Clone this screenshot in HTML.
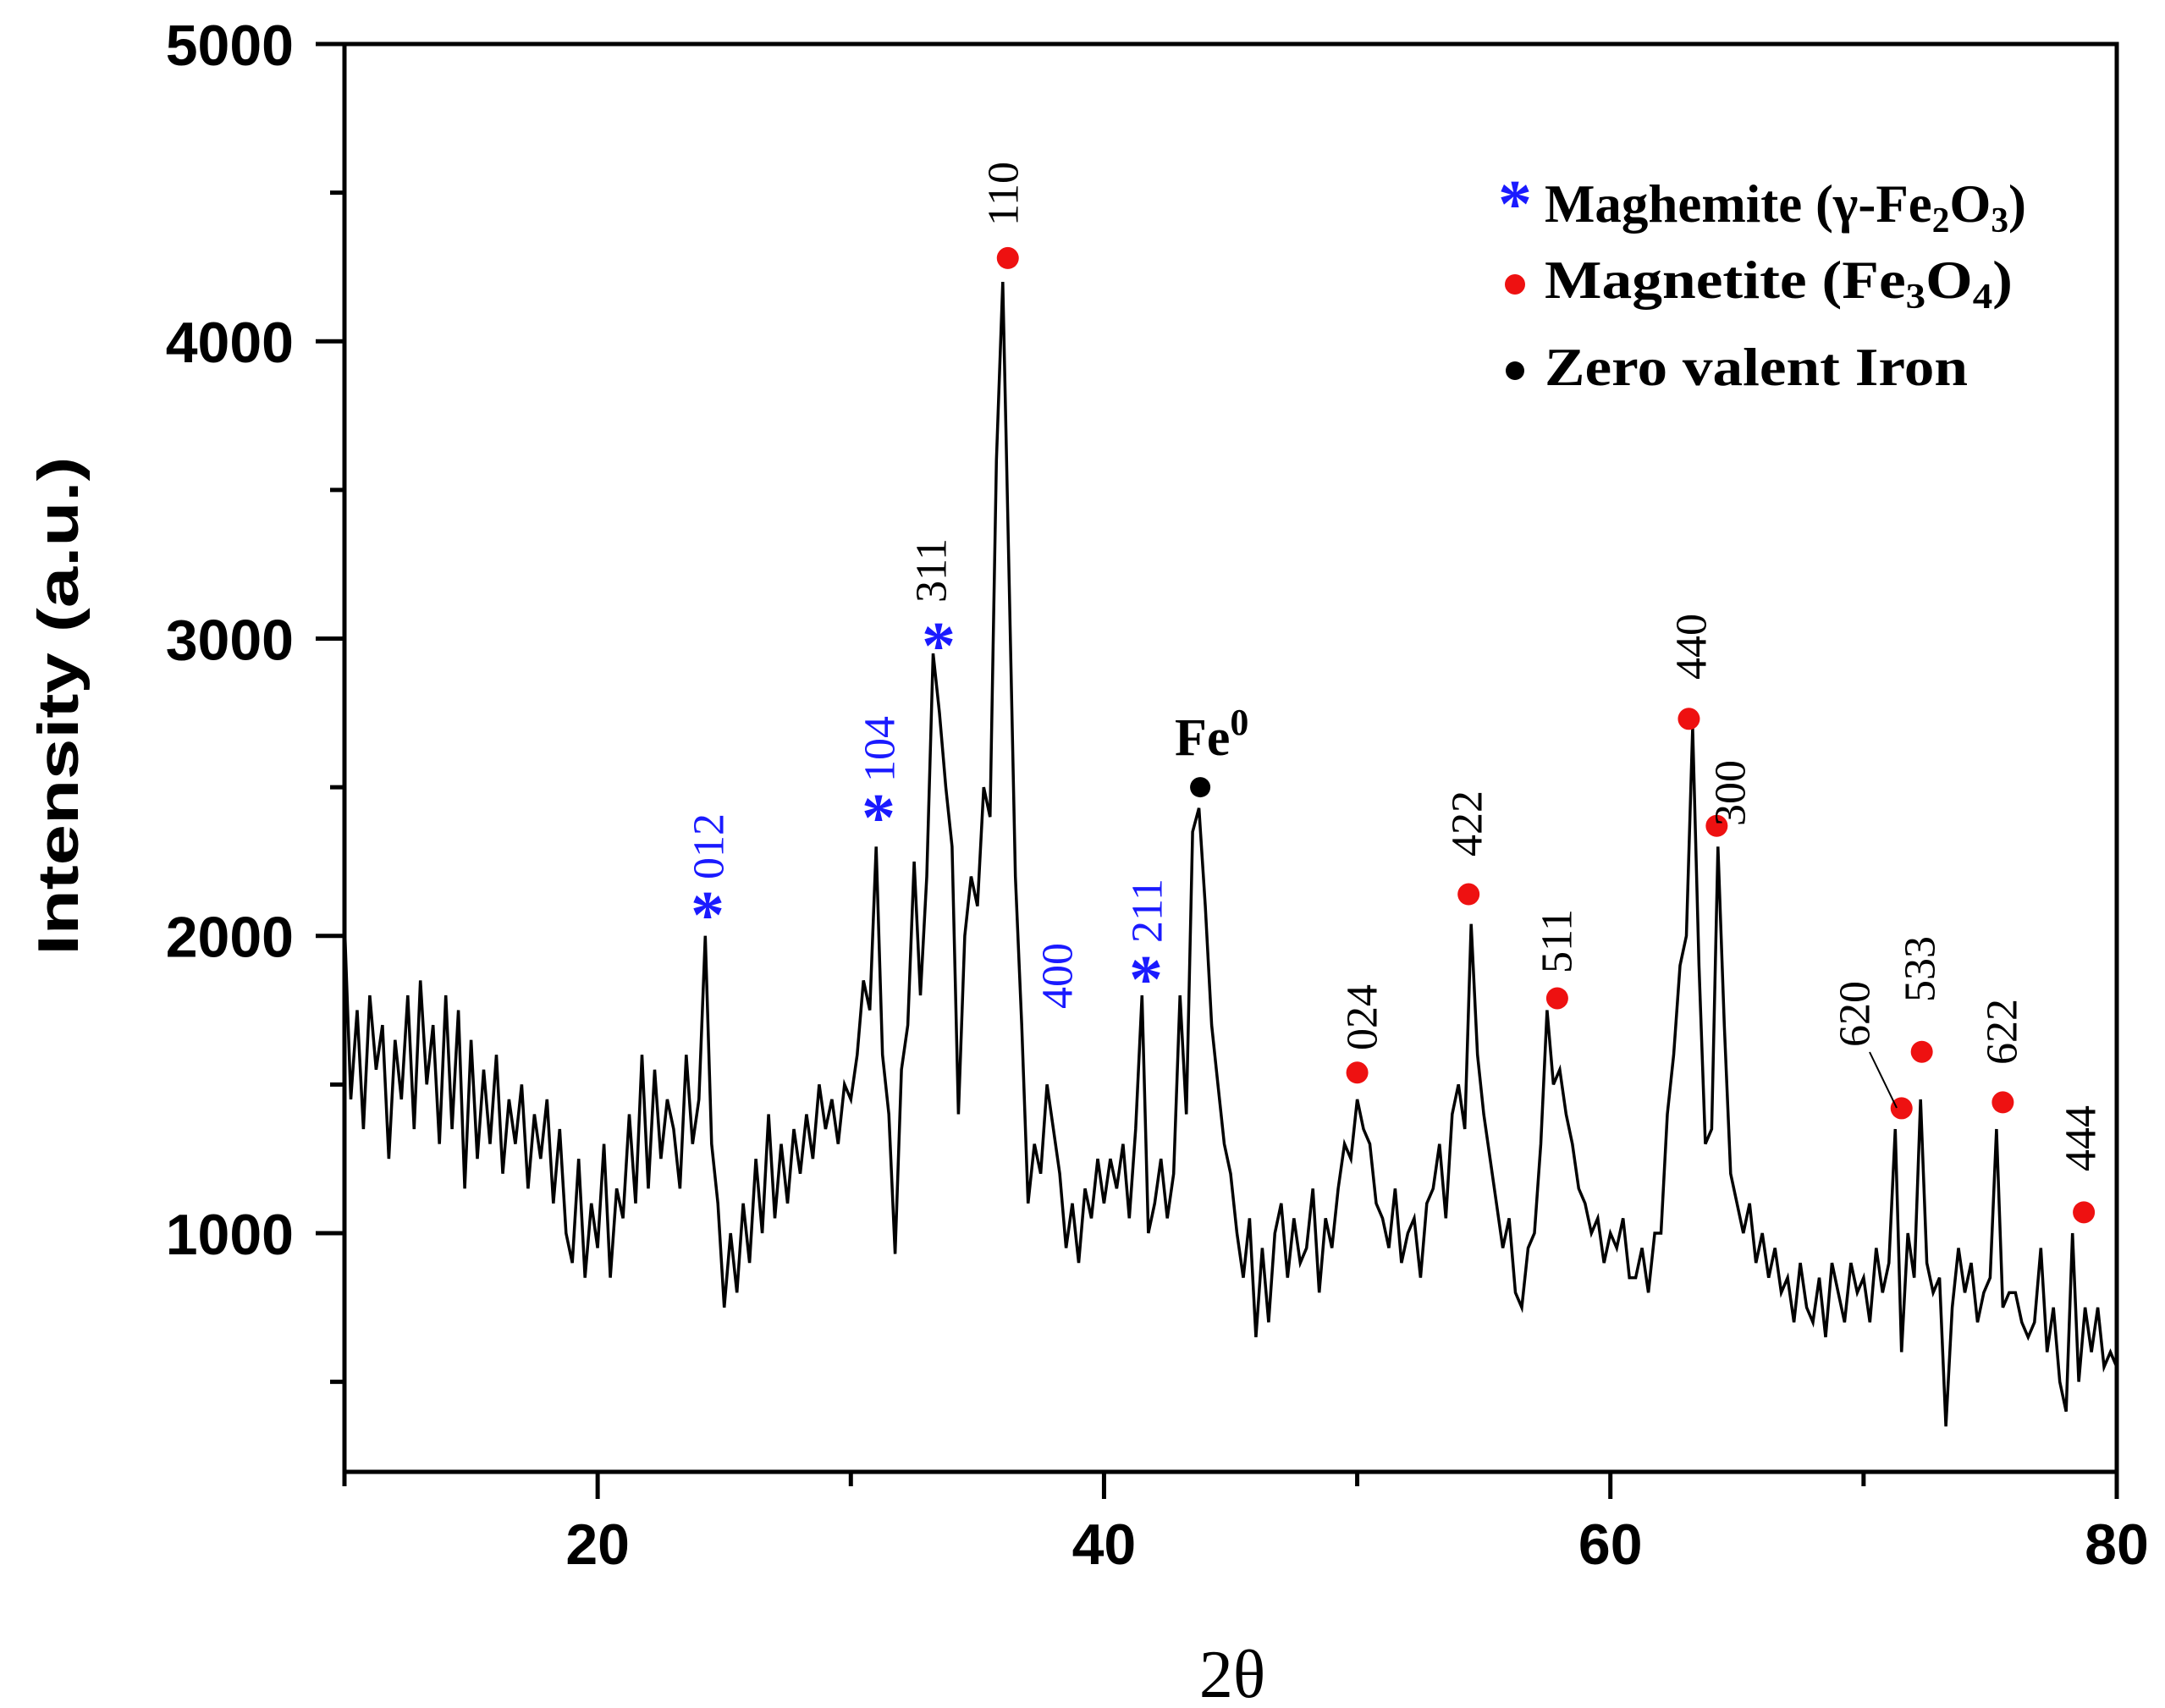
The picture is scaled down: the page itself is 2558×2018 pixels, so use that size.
<!DOCTYPE html>
<html><head><meta charset="utf-8"><style>
html,body{margin:0;padding:0;background:#fff;}
svg{display:block;}
</style></head><body>
<svg id="chart" width="2558" height="2018" viewBox="0 0 2558 2018" xmlns="http://www.w3.org/2000/svg">
<rect width="2558" height="2018" fill="#fff"/>
<g id="plot"></g>
<g id="axes"></g>
<g id="annot"></g>
<g id="legend">
  <text x="1790" y="268" font-family="Liberation Serif, serif" font-size="80" font-weight="bold" fill="#1a1aff" text-anchor="middle">*</text>
  <text x="1825" y="262" font-family="Liberation Serif, serif" font-size="64" font-weight="bold" textLength="569" lengthAdjust="spacingAndGlyphs">Maghemite (γ-Fe<tspan font-size="42" dy="12">2</tspan><tspan dy="-12">O</tspan><tspan font-size="42" dy="12">3</tspan><tspan dy="-12">)</tspan></text>
  <circle cx="1790" cy="336" r="12" fill="#ee1111"/>
  <text x="1825" y="352" font-family="Liberation Serif, serif" font-size="64" font-weight="bold" textLength="553" lengthAdjust="spacingAndGlyphs">Magnetite (Fe<tspan font-size="42" dy="12">3</tspan><tspan dy="-12">O</tspan><tspan font-size="42" dy="12">4</tspan><tspan dy="-12">)</tspan></text>
  <circle cx="1790" cy="438" r="11" fill="#000"/>
  <text x="1825" y="455" font-family="Liberation Serif, serif" font-size="64" font-weight="bold" textLength="500" lengthAdjust="spacingAndGlyphs">Zero valent Iron</text>
</g>
</svg>
<script>
const xStart = 10;
const xStep = 0.25;
const intensity = [
2050,1450,1750,1350, 1800,1550,1700,1250, 1650,1450,1800,1350, 1850,1500,1700,1300,
1800,1350,1750,1150, 1650,1250,1550,1300, 1600,1200,1450,1300, 1500,1150,1400,1250,
1450,1100,1350,1000, 900,1250,850,1100, 950,1300,850,1150, 1050,1400,1100,1600,
1150,1550,1250,1450, 1350,1150,1600,1300, 1450,2000,1300,1100, 750,1000,800,1100,
900,1250,1000,1400, 1050,1300,1100,1350, 1200,1400,1250,1500, 1350,1450,1300,1500,
1450,1600,1850,1750, 2300,1600,1400,930, 1550,1700,2250,1800, 2200,2950,2750,2500,
2300,1400,2000,2200, 2100,2500,2400,3600, 4200,3200,2200,1700, 1100,1300,1200,1500,
1350,1200,950,1100, 900,1150,1050,1250, 1100,1250,1150,1300, 1050,1350,1800,1000,
1100,1250,1050,1200, 1800,1400,2350,2430, 2100,1700,1500,1300, 1200,1000,850,1050,
650,950,700,1000, 1100,850,1050,900, 950,1150,800,1050, 950,1150,1300,1250,
1450,1350,1300,1100, 1050,950,1150,900, 1000,1050,850,1100, 1150,1300,1050,1400,
1500,1350,2040,1600, 1400,1250,1100,950, 1050,800,750,950, 1000,1300,1750,1500,
1550,1400,1300,1150, 1100,1000,1050,900, 1000,950,1050,850, 850,950,800,1000,
1000,1400,1600,1900, 2000,2700,1900,1300, 1350,2300,1700,1200, 1100,1000,1100,900,
1000,850,950,800, 850,700,900,750, 700,850,650,900, 800,700,900,800,
850,700,950,800, 900,1350,600,1000, 850,1450,900,800, 850,350,750,950,
800,900,700,800, 850,1350,750,800, 800,700,650,700, 950,600,750,500,
400,1000,500,750, 600,750,550,600, 550
];
const xTicks = [20,40,60,80];
const xMinorTicks = [10,30,50,70];
const yTicks = [1000,2000,3000,4000,5000];
const yMinorTicks = [500,1500,2500,3500,4500];
const redDotX = [36.2,63.1,64.2,54.4,57.9,50.0,71.5,72.3,75.5,78.7];
const redDotY = [4280,2730,2370,2140,1790,1540,1420,1610,1440,1070];
const feDotX = [43.8];
const feDotY = [2500];

const NS = "http://www.w3.org/2000/svg";
const X0 = 407, X1 = 2501, Y0 = 52, Y1 = 1739;
const xMin = 10, xMax = 80, yMin = 197, yMax = 5000;
function xs(v){ return X0 + (v - xMin) * (X1 - X0) / (xMax - xMin); }
function ys(v){ return Y0 + (yMax - v) * (Y1 - Y0) / (yMax - yMin); }
function mk(tag, attrs, parent){ const e = document.createElementNS(NS, tag); for (const k in attrs) e.setAttribute(k, attrs[k]); parent.appendChild(e); return e; }

const plot = document.getElementById('plot');
let d = '';
intensity.forEach((v, i) => { const t = xStart + i * xStep; d += (i ? 'L' : 'M') + xs(t).toFixed(1) + ',' + ys(v).toFixed(1); });
const line = mk('path', {d: d, fill: 'none', stroke: '#000', 'stroke-width': 3.5, 'stroke-linejoin': 'miter'}, plot);



const axes = document.getElementById('axes');
const frame = mk('rect', {x: X0, y: Y0, width: X1 - X0, height: Y1 - Y0, fill: 'none', stroke: '#000', 'stroke-width': 5}, axes);


xTicks.forEach(v => {
  const t = mk('line', {x1: xs(v), x2: xs(v), y1: Y1, y2: Y1 + 32, stroke: '#000', 'stroke-width': 5}, axes);
  
  
  const l = mk('text', {x: xs(v), y: 1848, 'text-anchor': 'middle', 'font-family': 'Liberation Sans, sans-serif', 'font-weight': 'bold', 'font-size': 68}, axes);
  l.textContent = v;
  
  
});
xMinorTicks.forEach(v => {
  const t = mk('line', {x1: xs(v), x2: xs(v), y1: Y1, y2: Y1 + 17, stroke: '#000', 'stroke-width': 5}, axes);
  
  
});
yTicks.forEach(v => {
  const t = mk('line', {x1: X0 - 34, x2: X0, y1: ys(v), y2: ys(v), stroke: '#000', 'stroke-width': 5}, axes);
  
  
  const l = mk('text', {x: 347, y: ys(v) + 25, 'text-anchor': 'end', 'font-family': 'Liberation Sans, sans-serif', 'font-weight': 'bold', 'font-size': 68}, axes);
  l.textContent = v;
  
  
});
yMinorTicks.forEach(v => {
  const t = mk('line', {x1: X0 - 17, x2: X0, y1: ys(v), y2: ys(v), stroke: '#000', 'stroke-width': 5}, axes);
  
  
});
const yt = mk('text', {x: 0, y: 0, transform: 'translate(92,834) rotate(-90)', 'text-anchor': 'middle', 'font-family': 'Liberation Sans, sans-serif', 'font-weight': 'bold', 'font-size': 68, textLength: 589, lengthAdjust: 'spacingAndGlyphs'}, axes);
yt.textContent = 'Intensity (a.u.)';


const xt = mk('text', {x: 1456, y: 2005, 'text-anchor': 'middle', 'font-family': 'Liberation Serif, serif', 'font-size': 80}, axes);
xt.textContent = '2θ';



const annot = document.getElementById('annot');
redDotX.forEach((v, i) => {
  const c = mk('circle', {cx: xs(v), cy: ys(redDotY[i]), r: 13, fill: '#ee1111'}, annot);
  
  
});
feDotX.forEach((v, i) => {
  const c = mk('circle', {cx: xs(v), cy: ys(feDotY[i]), r: 12, fill: '#000'}, annot);
  
  
});
const labels = [
  ['012',838,1000,'#1a1aff',1],['104',1040,885,'#1a1aff',1],['',1111,760,'#1a1aff',1],['311',1101,674,'#000',0],
  ['110',1186,229,'#000',0],['400',1250,1153,'#1a1aff',0],['211',1356,1076,'#1a1aff',1],['024',1610,1202,'#000',0],
  ['422',1734,973,'#000',0],['511',1840,1112,'#000',0],['440',1999,764,'#000',0],['300',2045,937,'#000',0],
  ['620',2192,1198,'#000',0],['533',2269,1145,'#000',0],['622',2366,1219,'#000',0],['444',2459,1345,'#000',0]
];
labels.forEach(L => {
  if (L[0]) {
    const t = mk('text', {x: 0, y: 0, transform: 'translate(' + L[1] + ',' + L[2] + ') rotate(-90)', 'text-anchor': 'middle', 'dominant-baseline': 'central', 'font-family': 'Liberation Serif, serif', 'font-size': 52, fill: L[3]}, annot);
    t.textContent = L[0];
    
    
  }
  if (L[4]) {
    const sy = L[0] ? L[2] + 78 : L[2];
    const s = mk('text', {x: L[1] - 2, y: sy + 30, 'text-anchor': 'middle', 'font-family': 'Liberation Serif, serif', 'font-weight': 'bold', 'font-size': 80, fill: '#1a1aff'}, annot);
    s.textContent = '*';
    
    
  }
});
const lead = mk('line', {x1: 2209, y1: 1243, x2: 2241, y2: 1309, stroke: '#000', 'stroke-width': 2}, annot);


const fe = mk('text', {x: 1388, y: 892, 'font-family': 'Liberation Serif, serif', 'font-weight': 'bold', 'font-size': 62}, annot);
fe.innerHTML = 'Fe<tspan font-size="44" dy="-24">0</tspan>';


</script>
</body></html>
